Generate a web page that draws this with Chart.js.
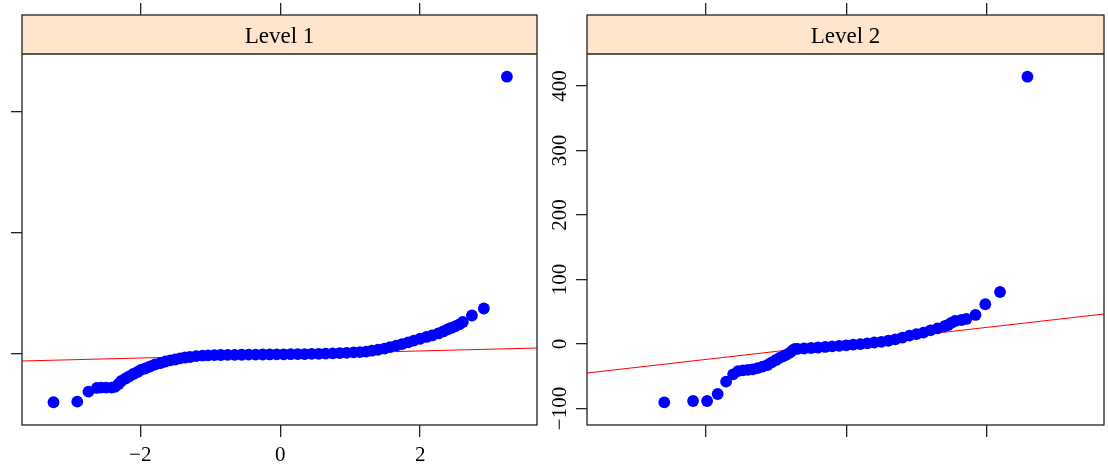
<!DOCTYPE html>
<html>
<head>
<meta charset="utf-8">
<title>qqmath by level</title>
<script src="https://cdn.jsdelivr.net/npm/chart.js@4.4.1/dist/chart.umd.min.js"></script>
<style>
  html, body { margin: 0; padding: 0; background: #fff; width: 1108px; height: 471px; overflow: hidden; }
  canvas { position: absolute; top: 0; }
  #c1 { left: 0; }
  #c2 { left: 545px; }
</style>
</head>
<body>
<canvas id="c1" width="545" height="471"></canvas>
<canvas id="c2" width="563" height="471"></canvas>
<script>
// ---- data ----
const panelNames = ['Level 1', 'Level 2'];

const xTickValues = [-2, 0, 2];
const xTickLabels = ['\u22122', '0', '2'];
const xRange = [-3.69, 3.67];

const level1YTicks = [0, 200, 400];
const level1YRange = [-117.4, 560.3];   // top part hidden under the strip
const level2YTicks = [-100, 0, 100, 200, 300, 400];
const level2YLabels = ['\u2212100', '0', '100', '200', '300', '400'];
const level2YRange = [-125.6, 510.1];

// theoretical normal quantiles / sample values
const level1Theo = [-3.24, -2.90, -2.74, -2.62, -2.56, -2.49, -2.41, -2.36, -2.31, -2.27,
  -2.21, -2.16, -2.10, -2.04, -1.99, -1.93, -1.86, -1.79, -1.71, -1.64,
  -1.57, -1.50, -1.43, -1.36, -1.29, -1.20, -1.11, -1.03, -0.94, -0.85,
  -0.75, -0.65, -0.55, -0.45, -0.35, -0.25, -0.15, -0.05, 0.05, 0.15,
  0.25, 0.35, 0.45, 0.55, 0.65, 0.75, 0.85, 0.95, 1.05, 1.14,
  1.23, 1.31, 1.40, 1.49, 1.57, 1.66, 1.74, 1.83, 1.91, 2.00,
  2.09, 2.17, 2.26, 2.33, 2.39, 2.44, 2.50, 2.56, 2.61, 2.74,
  2.91, 3.24];
const level1Obs = [-79.8, -78.8, -62.3, -56.2, -55.7, -55.7, -55.7, -54.5, -49.6, -44.6,
  -40.5, -37.2, -33.1, -29.8, -26.4, -24.0, -20.7, -17.4, -14.9, -12.4,
  -10.7, -9.1, -7.4, -5.8, -5.0, -3.5, -2.8, -2.2, -1.9, -1.7,
  -1.6, -1.5, -1.3, -1.2, -1.1, -0.9, -0.8, -0.7, -0.5, -0.4,
  -0.3, -0.1, 0.1, 0.3, 0.6, 0.9, 1.3, 1.9, 2.6, 3.1,
  3.9, 5.4, 7.0, 9.0, 11.2, 13.7, 16.4, 19.2, 22.1, 25.2,
  28.1, 30.6, 33.9, 37.2, 40.5, 43.0, 45.5, 48.8, 52.9, 63.6,
  75.2, 458.3];

const level2Theo = [-2.59, -2.18, -1.98, -1.83, -1.71, -1.61, -1.54, -1.47, -1.40, -1.33,
  -1.26, -1.19, -1.12, -1.06, -1.00, -0.95, -0.90, -0.85, -0.80, -0.76,
  -0.73, -0.69, -0.60, -0.50, -0.40, -0.30, -0.20, -0.10, 0.00, 0.10,
  0.20, 0.30, 0.40, 0.50, 0.60, 0.70, 0.80, 0.90, 1.00, 1.10,
  1.20, 1.30, 1.40, 1.45, 1.50, 1.55, 1.64, 1.71, 1.84, 1.98,
  2.19, 2.58];
const level2Obs = [-90.4, -88.4, -88.4, -77.5, -58.4, -47.0, -42.0, -40.8, -40.0, -39.2,
  -37.5, -35.2, -32.6, -28.5, -24.8, -21.5, -19.3, -16.5, -13.5, -9.5,
  -7.8, -7.5, -7.0, -6.2, -5.4, -4.6, -3.7, -2.8, -2.0, -1.1,
  -0.1, 1.1, 2.3, 3.4, 5.0, 7.2, 9.8, 13.0, 15.3, 17.6,
  21.2, 24.3, 27.5, 29.5, 33.0, 35.7, 37.2, 38.8, 45.0, 61.6,
  80.6, 414.4];

// qq reference lines (ends at the panel edges)
const level1LineX = [-3.69, 3.67];
const level1LineY = [-11.6, 9.9];
const level2LineX = [-3.69, 3.67];
const level2LineY = [-45.0, 46.5];

const FONT = "'Liberation Serif', 'Times New Roman', serif";
const INK = '#222';

// strip + box + (optional) rotated y labels, lattice style
function latticeDecor(cfg) {
  return {
    id: 'latticeDecor',
    afterDatasetsDraw(chart) {
      const ctx = chart.ctx;
      const a = chart.chartArea;
      const stripH = 39;
      ctx.save();
      ctx.fillStyle = '#ffe5cc';
      ctx.fillRect(a.left, a.top, a.right - a.left, stripH);
      ctx.strokeStyle = INK;
      ctx.lineWidth = 1.3;
      ctx.beginPath();
      ctx.moveTo(a.left, a.top + stripH);
      ctx.lineTo(a.right, a.top + stripH);
      ctx.stroke();
      ctx.strokeRect(a.left, a.top, a.right - a.left, a.bottom - a.top);

      ctx.fillStyle = '#000';
      ctx.font = '23px ' + FONT;
      ctx.textAlign = 'center';
      ctx.textBaseline = 'alphabetic';
      ctx.fillText(cfg.title, (a.left + a.right) / 2, a.top + 28);

      if (cfg.yLabels) {
        const ys = chart.scales.y;
        ctx.font = '21px ' + FONT;
        cfg.yTicks.forEach((v, i) => {
          ctx.save();
          ctx.translate(cfg.labelX, ys.getPixelForValue(v));
          ctx.rotate(-Math.PI / 2);
          ctx.fillText(cfg.yLabels[i], 0, 0);
          ctx.restore();
        });
      }
      ctx.restore();
    }
  };
}

function makePanel(canvasId, cfg) {
  const points = cfg.theo.map((x, i) => ({ x: x, y: cfg.obs[i] }));
  const line = cfg.lineX.map((x, i) => ({ x: x, y: cfg.lineY[i] }));
  const tickGrid = { display: true, drawOnChartArea: false, drawTicks: true, tickLength: 12, color: INK, lineWidth: 1.3 };
  const setXTicks = s => { s.ticks = xTickValues.map(v => ({ value: v })); };

  return new Chart(document.getElementById(canvasId), {
    type: 'scatter',
    data: {
      datasets: [
        { data: points, backgroundColor: '#0000ff', borderWidth: 0, pointRadius: 5.9, order: 0 },
        { type: 'line', data: line, borderColor: '#ff0000', borderWidth: 1.1, pointRadius: 0, fill: false, order: 1 }
      ]
    },
    options: {
      responsive: false,
      animation: false,
      events: [],
      layout: { autoPadding: false, padding: { left: 0, right: cfg.padRight, top: 0, bottom: 0 } },
      plugins: { legend: { display: false }, tooltip: { enabled: false } },
      scales: {
        x: {
          type: 'linear', position: 'bottom', min: xRange[0], max: xRange[1],
          afterBuildTicks: setXTicks,
          afterFit: s => { s.height = 46; },
          grid: tickGrid, border: { display: false },
          ticks: {
            display: cfg.showXLabels, padding: 6, color: '#000', font: { family: FONT, size: 21 },
            callback: v => xTickLabels[xTickValues.indexOf(v)]
          }
        },
        xTop: {
          type: 'linear', position: 'top', min: xRange[0], max: xRange[1],
          afterBuildTicks: setXTicks,
          afterFit: s => { s.height = 15; },
          grid: tickGrid, border: { display: false },
          ticks: { display: false }
        },
        y: {
          type: 'linear', position: 'left', min: cfg.yRange[0], max: cfg.yRange[1],
          afterBuildTicks: s => { s.ticks = cfg.yTicks.map(v => ({ value: v })); },
          afterFit: s => { s.width = cfg.yAxisWidth; },
          grid: Object.assign({}, tickGrid, { tickLength: 11 }), border: { display: false },
          ticks: { display: false }
        }
      }
    },
    plugins: [latticeDecor(cfg)]
  });
}

makePanel('c1', {
  title: panelNames[0], theo: level1Theo, obs: level1Obs,
  lineX: level1LineX, lineY: level1LineY,
  yTicks: level1YTicks, yRange: level1YRange, yLabels: null,
  showXLabels: true, yAxisWidth: 22, padRight: 8
});

makePanel('c2', {
  title: panelNames[1], theo: level2Theo, obs: level2Obs,
  lineX: level2LineX, lineY: level2LineY,
  yTicks: level2YTicks, yRange: level2YRange, yLabels: level2YLabels, labelX: 21,
  showXLabels: false, yAxisWidth: 42, padRight: 4
});
</script>
</body>
</html>
